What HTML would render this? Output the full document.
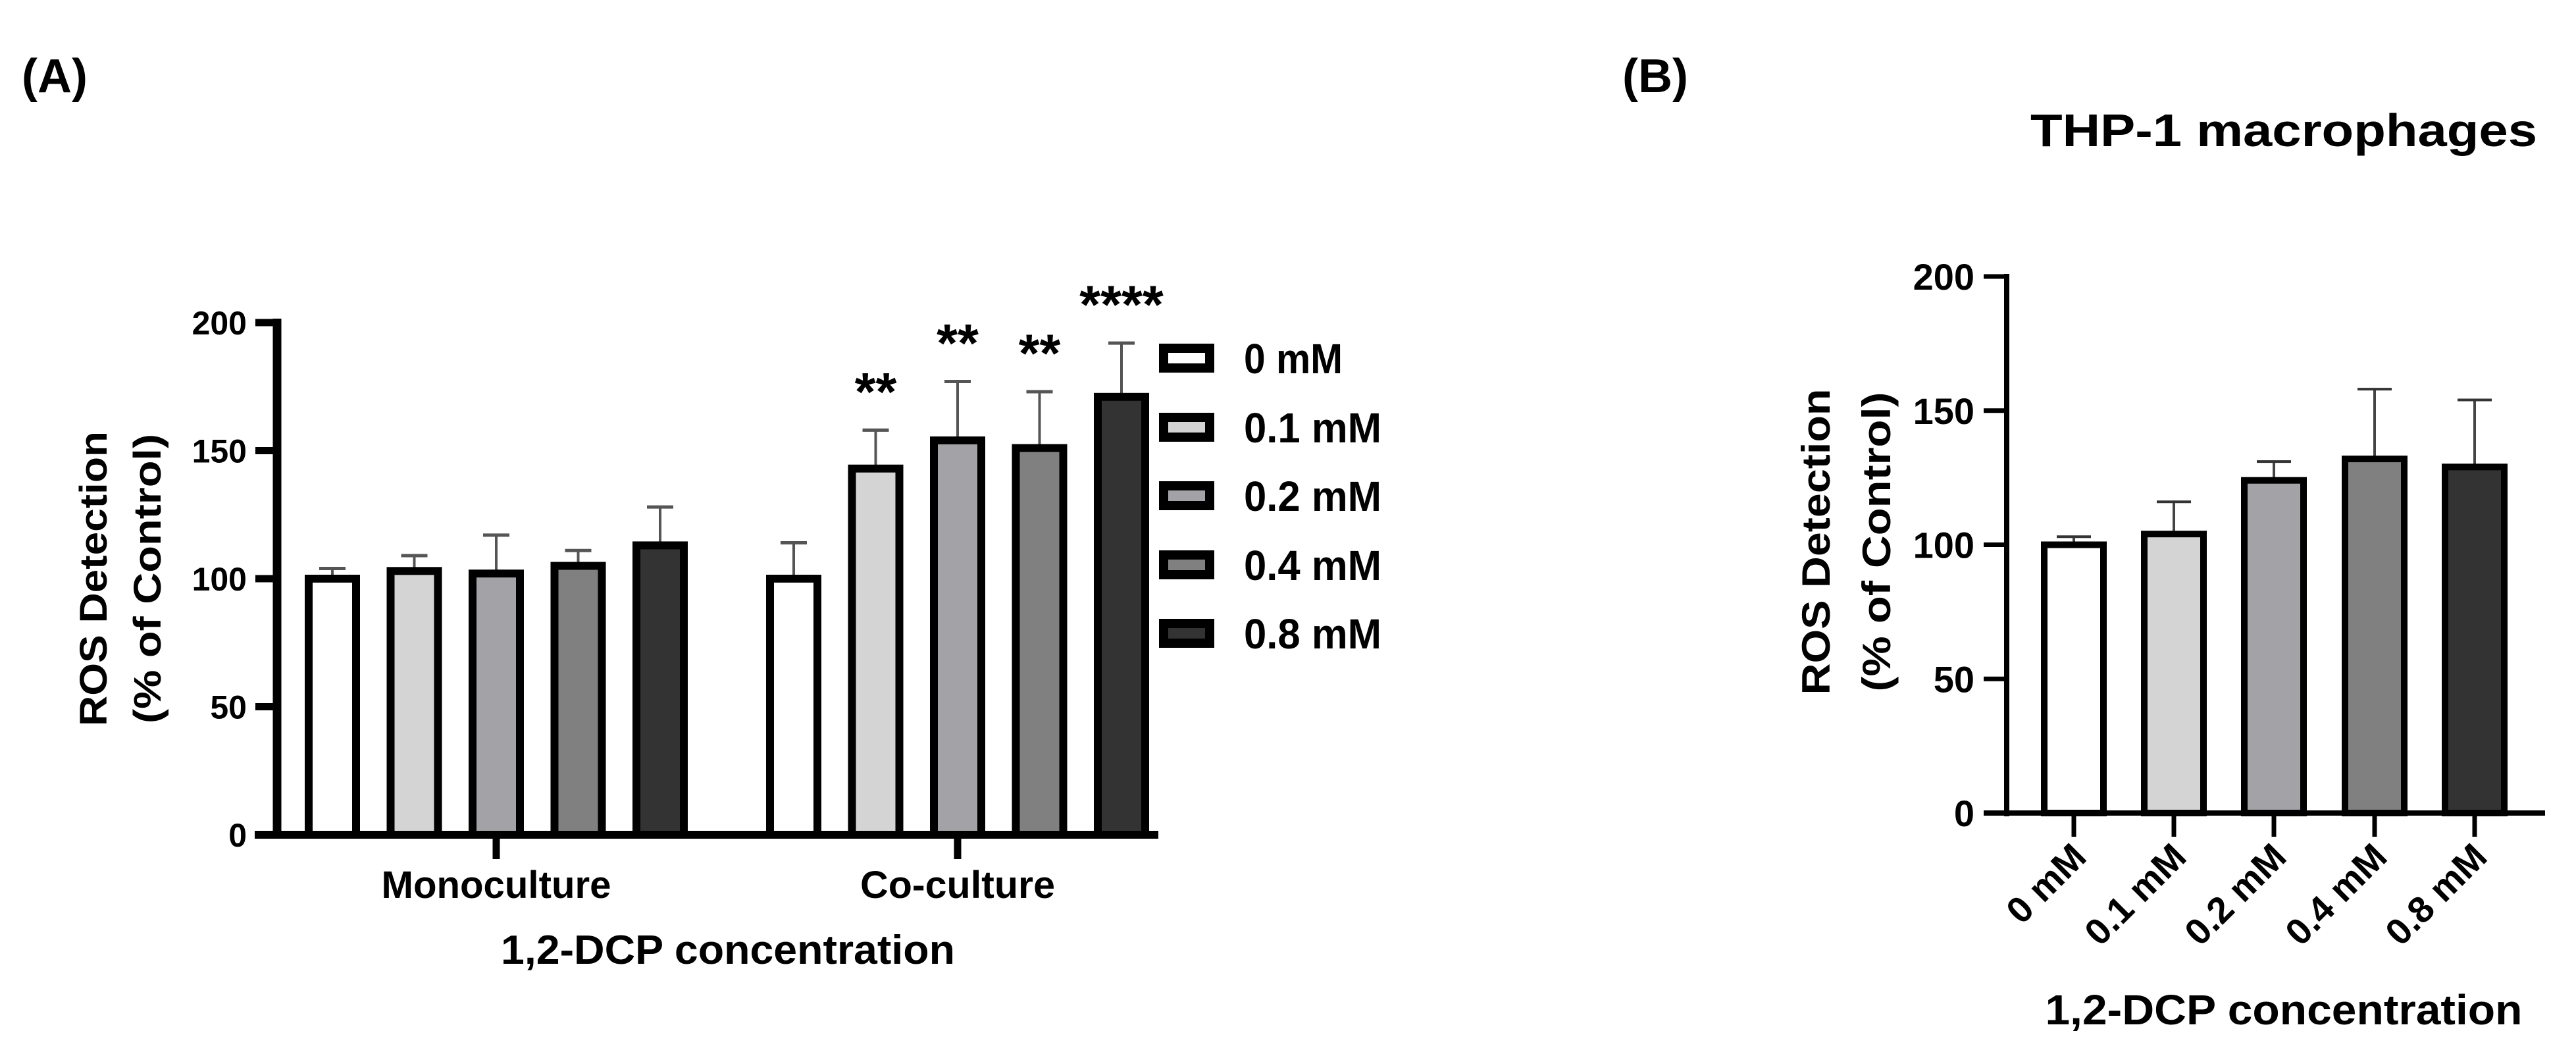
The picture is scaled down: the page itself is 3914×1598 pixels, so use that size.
<!DOCTYPE html>
<html><head><meta charset="utf-8"><style>
html,body{margin:0;padding:0;background:#fff;}
svg{display:block;}
text{font-family:"Liberation Sans",sans-serif;font-weight:bold;fill:#000;}
.n{font-family:"Liberation Sans Narrow","Liberation Sans",sans-serif;}
</style></head><body>
<svg id="fig" width="3914" height="1598" viewBox="0 0 3914 1598" xmlns="http://www.w3.org/2000/svg">
<text x="33" y="140" font-size="72">(A)</text>
<text x="2465" y="140" font-size="72">(B)</text>
<g id="A"></g>
<g id="B"></g>
</svg>
<script>
const concLabels = ["0 mM","0.1 mM","0.2 mM","0.4 mM","0.8 mM"];
const fills = ["#ffffff","#d4d4d4","#a3a3a7","#808080","#333333"];
const groupsA = ["Monoculture","Co-culture"];
const monoMeans = [100,103,102,105,113];
const monoErr = [4,6,15,6,15];
const coMeans = [100,143,154,151,171];
const coErr = [14,15,23,22,21];
const coSig = ["","**","**","**","****"];
const yTicks = [0,50,100,150,200];
const bMeans = [100,104,124,132,129];
const bErr = [3,12,7,26,25];

const NS="http://www.w3.org/2000/svg";
function mk(p,tag,attrs,txt){const e=document.createElementNS(NS,tag);for(const k in attrs)e.setAttribute(k,attrs[k]);if(txt!==undefined)e.textContent=txt;p.appendChild(e);return e;}

// Panel A
const A=document.getElementById('A');
const ayA=v=>1268-(v/200)*(1268-490);
const groupCenter=[754,1455];
const step=124.5;
const bwA=72;
[[monoMeans,monoErr],[coMeans,coErr]].forEach((s,g)=>{
  s[0].forEach((m,i)=>{
    const cx=groupCenter[g]+(i-2)*step;
    const e=mk(A,'line',{x1:cx,x2:cx,y1:ayA(m),y2:ayA(m+s[1][i]),stroke:'#555','stroke-width':4});
    
    
    const c=mk(A,'line',{x1:cx-20,x2:cx+20,y1:ayA(m+s[1][i]),y2:ayA(m+s[1][i]),stroke:'#555','stroke-width':5});
    
    
  });
});
[[monoMeans],[coMeans]].forEach((s,g)=>{
  s[0].forEach((m,i)=>{
    const cx=groupCenter[g]+(i-2)*step;
    const r=mk(A,'rect',{x:cx-bwA/2,y:ayA(m),width:bwA,height:ayA(0)-ayA(m),fill:fills[i],stroke:'#000','stroke-width':12});
    
    
  });
});
coSig.forEach((s,i)=>{
  if(!s)return;
  const cx=groupCenter[1]+(i-2)*step;
  const t=mk(A,'text',{x:cx,y:ayA(coMeans[i]+coErr[i])-30,'font-size':82,'text-anchor':'middle','class':'n','font-weight':'normal'},s);
  
  
});
const yaxA=mk(A,'line',{x1:421,x2:421,y1:484,y2:1274,stroke:'#000','stroke-width':13});


const xaxA=mk(A,'line',{x1:387,x2:1760,y1:1268,y2:1268,stroke:'#000','stroke-width':12});


yTicks.forEach(v=>{
  const l=mk(A,'line',{x1:388,x2:421,y1:ayA(v),y2:ayA(v),stroke:'#000','stroke-width':11});
  
  
  const t=mk(A,'text',{x:375,y:ayA(v)+18,'font-size':50,'text-anchor':'end'},String(v));
  
  
});
groupsA.forEach((g,k)=>{
  const l=mk(A,'line',{x1:groupCenter[k],x2:groupCenter[k],y1:1268,y2:1305,stroke:'#000','stroke-width':11});
  
  
  const t=mk(A,'text',{x:groupCenter[k],y:1364,'font-size':58,'text-anchor':'middle','class':'n',textLength:k?296:349,lengthAdjust:'spacingAndGlyphs'},g);
  
  
});
let t1=mk(A,'text',{x:1106,y:1464,'font-size':62,'text-anchor':'middle','class':'n',textLength:690,lengthAdjust:'spacingAndGlyphs'},"1,2-DCP concentration");


let t2=mk(A,'text',{x:0,y:0,'font-size':58,'text-anchor':'middle','class':'n',textLength:448,lengthAdjust:'spacingAndGlyphs',transform:'translate(162,879) rotate(-90)'},"ROS Detection");


let t3=mk(A,'text',{x:0,y:0,'font-size':58,'text-anchor':'middle','class':'n',textLength:440,lengthAdjust:'spacingAndGlyphs',transform:'translate(244,879) rotate(-90)'},"(% of Control)");


const legY=[544,649,753,858,962];
concLabels.forEach((c,i)=>{
  const r=mk(A,'rect',{x:1768,y:legY[i]-15,width:70,height:30,fill:fills[i],stroke:'#000','stroke-width':14});
  
  
  const w=[150,209,209,209,209][i];
  const t=mk(A,'text',{x:1890,y:legY[i]+23,'font-size':64,'class':'n',textLength:w,lengthAdjust:'spacingAndGlyphs'},c);
  
  
});

// Panel B
const B=document.getElementById('B');
const ayB=v=>1235-(v/200)*(1235-420);
const bxB=[3151,3303,3455,3608,3760];
const bwB=90;
bMeans.forEach((m,i)=>{
  const cx=bxB[i];
  const e=mk(B,'line',{x1:cx,x2:cx,y1:ayB(m),y2:ayB(m+bErr[i]),stroke:'#444','stroke-width':4});
  
  
  const c=mk(B,'line',{x1:cx-26,x2:cx+26,y1:ayB(m+bErr[i]),y2:ayB(m+bErr[i]),stroke:'#333','stroke-width':4});
  
  
});
bMeans.forEach((m,i)=>{
  const r=mk(B,'rect',{x:bxB[i]-bwB/2,y:ayB(m),width:bwB,height:ayB(0)-ayB(m),fill:fills[i],stroke:'#000','stroke-width':10});
  
  
});
const yaxB=mk(B,'line',{x1:3049,x2:3049,y1:416,y2:1240,stroke:'#000','stroke-width':8});


const xaxB=mk(B,'line',{x1:3014,x2:3867,y1:1235,y2:1235,stroke:'#000','stroke-width':8});


yTicks.forEach(v=>{
  const l=mk(B,'line',{x1:3014,x2:3049,y1:ayB(v),y2:ayB(v),stroke:'#000','stroke-width':7});
  
  
  const t=mk(B,'text',{x:3000,y:ayB(v)+20,'font-size':56,'text-anchor':'end'},String(v));
  
  
});
concLabels.forEach((c,i)=>{
  const l=mk(B,'line',{x1:bxB[i],x2:bxB[i],y1:1235,y2:1271,stroke:'#000','stroke-width':7});
  
  
  const t=mk(B,'text',{x:0,y:0,'font-size':56,'text-anchor':'end',transform:'translate('+(bxB[i]+22)+',1305) rotate(-45)'},c);
  
  
});
let b1=mk(B,'text',{x:3470,y:222,'font-size':70,'text-anchor':'middle',textLength:770,lengthAdjust:'spacingAndGlyphs'},"THP-1 macrophages");


let b2=mk(B,'text',{x:3470,y:1556,'font-size':64,'text-anchor':'middle',textLength:725,lengthAdjust:'spacingAndGlyphs'},"1,2-DCP concentration");


let b3=mk(B,'text',{x:0,y:0,'font-size':60,'text-anchor':'middle',textLength:465,lengthAdjust:'spacingAndGlyphs',transform:'translate(2780,823) rotate(-90)'},"ROS Detection");


let b4=mk(B,'text',{x:0,y:0,'font-size':60,'text-anchor':'middle',textLength:455,lengthAdjust:'spacingAndGlyphs',transform:'translate(2872,823) rotate(-90)'},"(% of Control)");


</script>
</body></html>
